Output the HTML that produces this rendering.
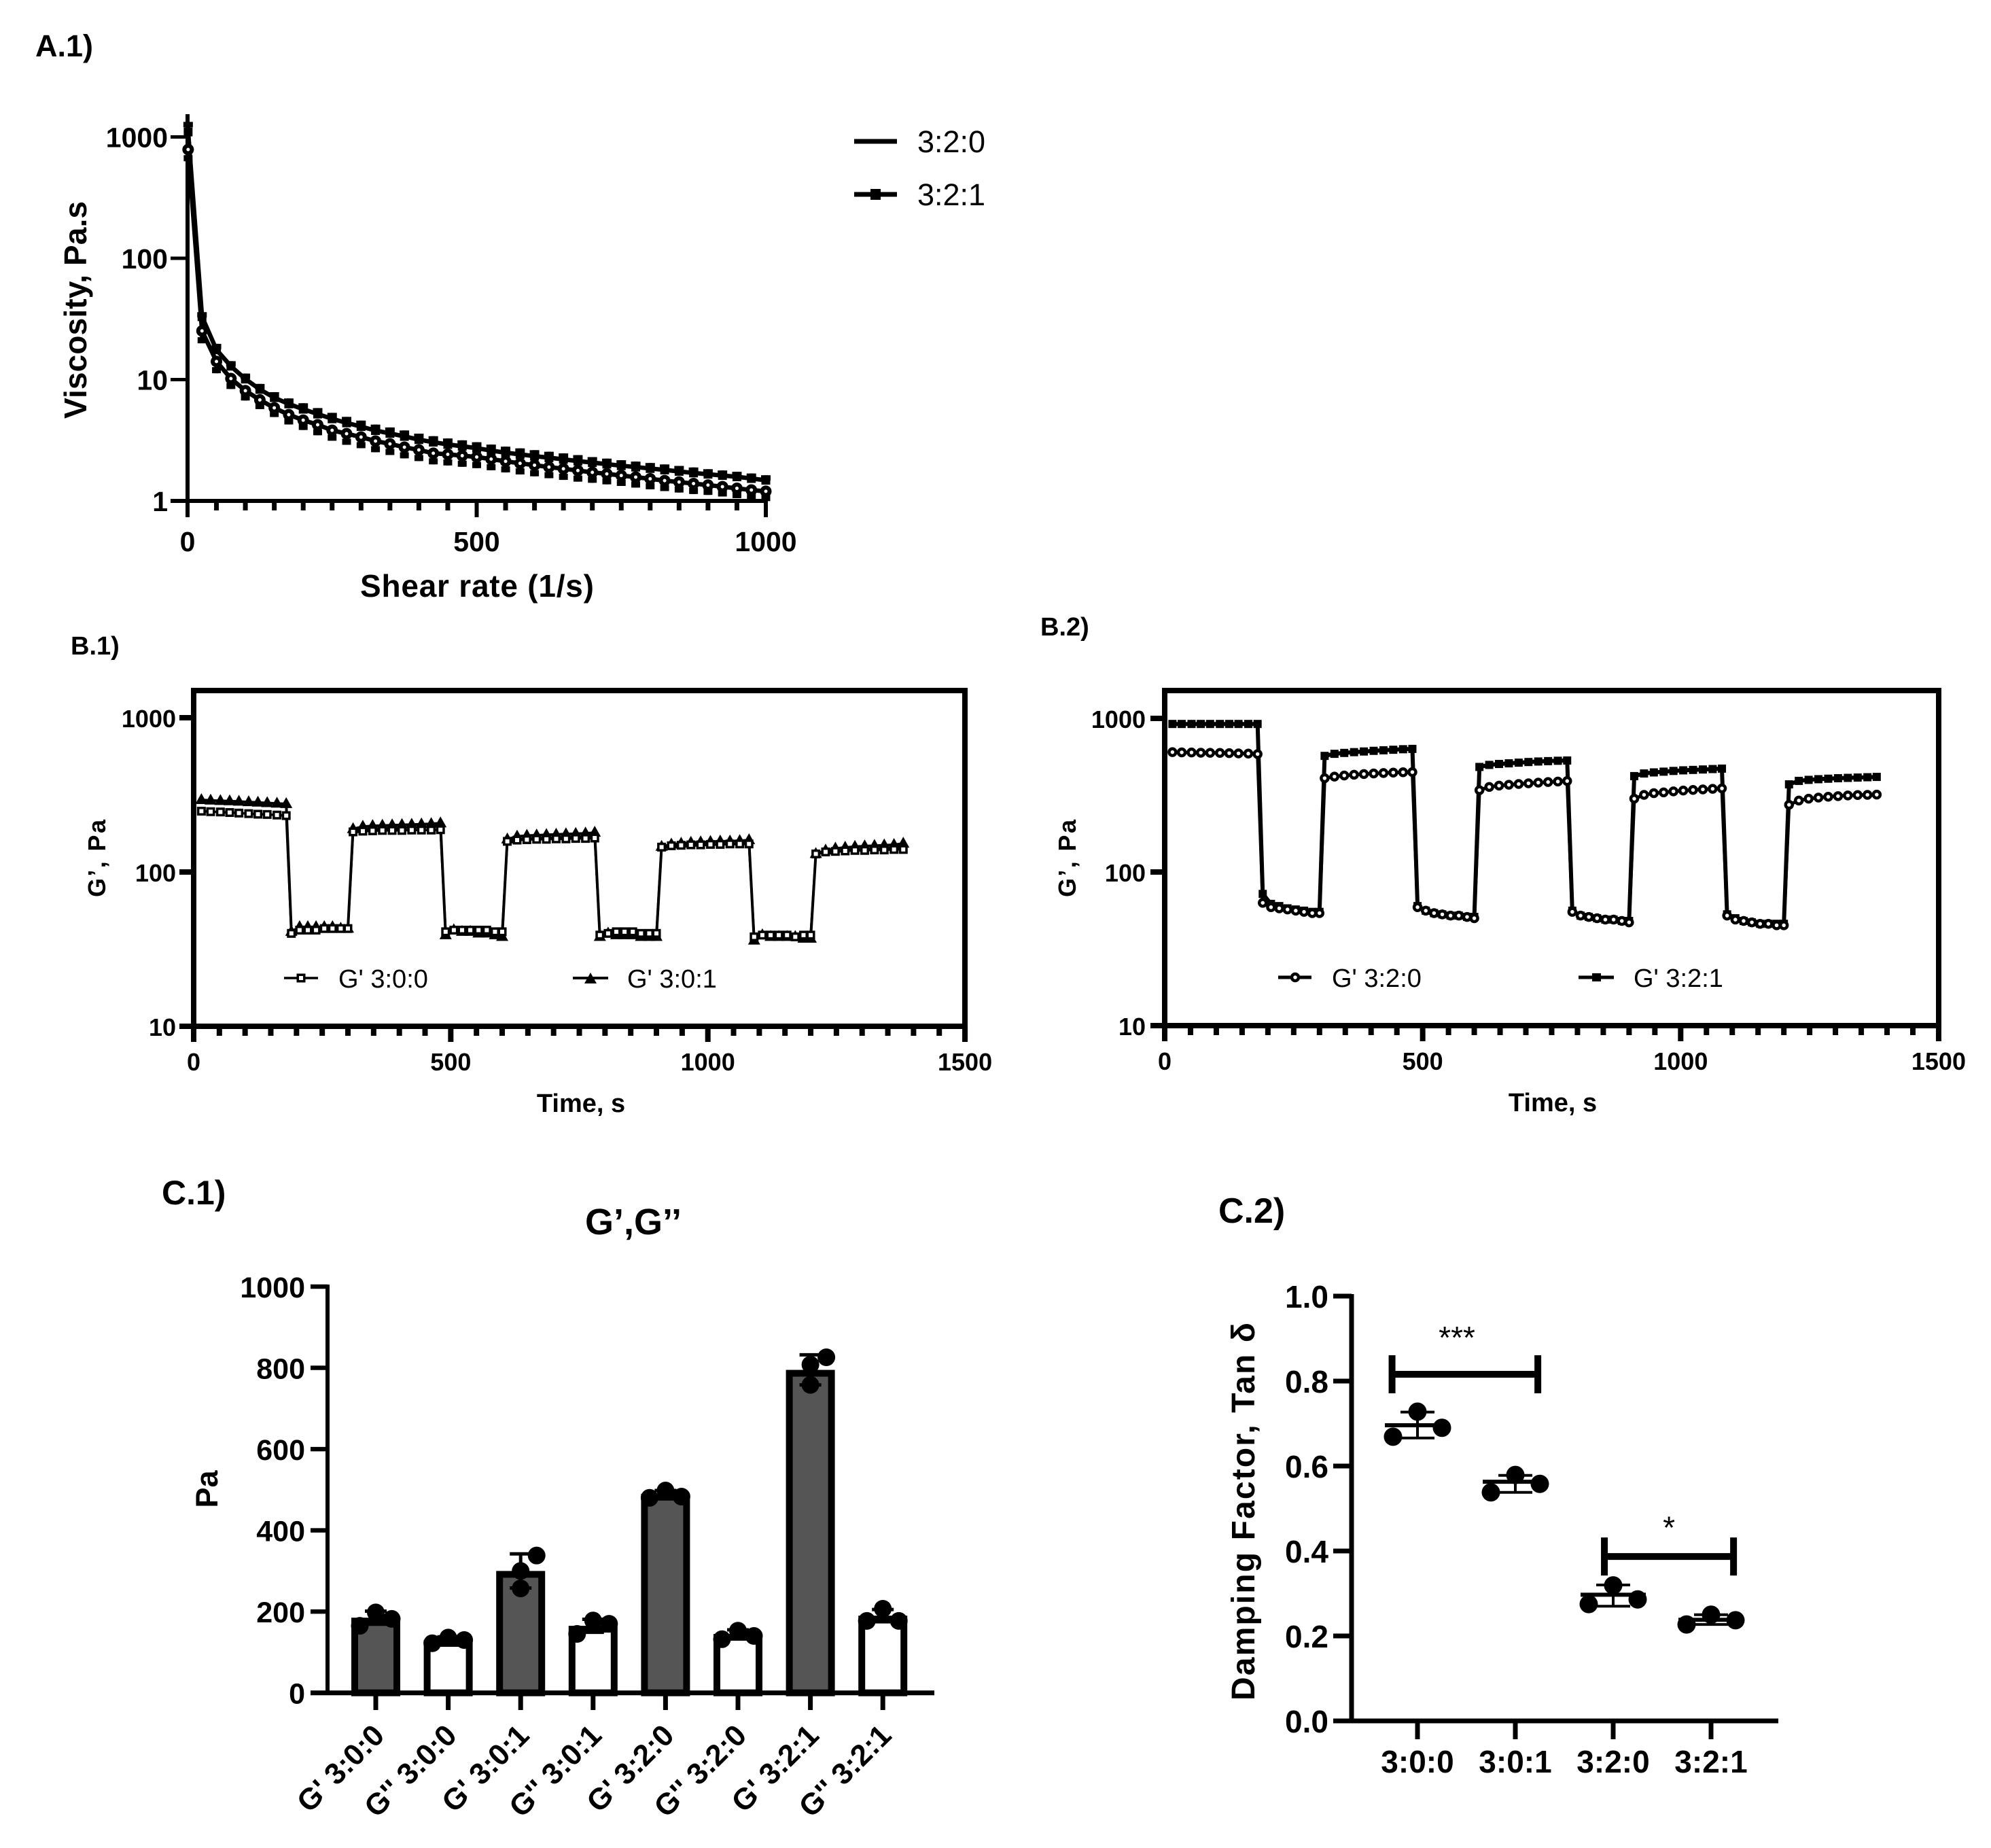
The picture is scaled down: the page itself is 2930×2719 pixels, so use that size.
<!DOCTYPE html>
<html lang="en">
<head>
<meta charset="utf-8">
<title>Rheology figure</title>
<style>
html,body{margin:0;padding:0;background:#fff;}
svg{display:block;}
text{font-family:"Liberation Sans",Arial,sans-serif;fill:#000;}
.b{font-weight:bold;}
</style>
</head>
<body>
<svg id="figure" xmlns="http://www.w3.org/2000/svg" width="2930" height="2719" viewBox="0 0 2930 2719">
  <rect x="0" y="0" width="2930" height="2719" fill="#fff"/>
  <text class="b" x="52" y="83" font-size="45">A.1)</text>
  <text class="b" x="104" y="963" font-size="38">B.1)</text>
  <text class="b" x="1531" y="935" font-size="38">B.2)</text>
  <text class="b" x="238" y="1772" font-size="50">C.1)</text>
  <text class="b" x="1793" y="1799" font-size="52">C.2)</text>

  <text class="b" transform="translate(127,456) rotate(-90)" text-anchor="middle" font-size="46" textLength="320">Viscosity, Pa.s</text>
  <text class="b" x="702" y="878" text-anchor="middle" font-size="46" textLength="344">Shear rate (1/s)</text>
  <text class="b" transform="translate(155,1263) rotate(-90)" text-anchor="middle" font-size="36" textLength="114">G’, Pa</text>
  <text class="b" x="855" y="1636" text-anchor="middle" font-size="38">Time, s</text>
  <text class="b" transform="translate(1583,1263) rotate(-90)" text-anchor="middle" font-size="36" textLength="114">G’, Pa</text>
  <text class="b" x="2285" y="1635" text-anchor="middle" font-size="38">Time, s</text>
  <text class="b" x="932" y="1816" text-anchor="middle" font-size="54">G’,G’’</text>
  <text class="b" transform="translate(320,2191) rotate(-90)" text-anchor="middle" font-size="45">Pa</text>
  <text class="b" transform="translate(1846,2224) rotate(-90)" text-anchor="middle" font-size="48" textLength="556">Damping Factor, Tan δ</text>
</svg>

<script>
/* ---------- Panel A.1 data ---------- */
const shearRates = [1,25,50,75,100,125,150,175,200,225,250,275,300,325,350,375,400,425,450,475,500,525,550,575,600,625,650,675,700,725,750,775,800,825,850,875,900,925,950,975,1000];
const viscosity320 = [788,25.2,14.1,10.2,8.1,6.8,5.85,5.14,4.63,4.24,3.82,3.58,3.36,3.11,2.95,2.77,2.63,2.47,2.42,2.36,2.3,2.21,2.12,2.04,1.97,1.9,1.84,1.78,1.72,1.67,1.62,1.57,1.52,1.47,1.43,1.39,1.35,1.31,1.27,1.23,1.2];
const viscosity321 = [1100,33,17.6,12.9,10.1,8.3,7.1,6.3,5.7,5.2,4.75,4.4,4.1,3.8,3.6,3.4,3.2,3.05,2.92,2.82,2.72,2.6,2.5,2.42,2.34,2.27,2.2,2.13,2.07,2.01,1.95,1.9,1.85,1.8,1.75,1.7,1.66,1.62,1.58,1.53,1.48];
const viscosityErrDownPct320 = [20,21,20,18,17,16,16,17,17,18,18,19,19,19,19,19,19,19,19,19,19,19,19,19,19,19,19,19,18,18,18,18,18,18,18,18,17,17,17,17,17];
const viscosityErrUpPct321 = [21,9,12,10,11,11,11,11,12,12,12,12,12,12,12,12,12,12,12,12,12,12,12,12,12,12,12,12,11,11,11,11,11,11,11,11,10,10,10,10,10];
const aXTicks = [0,500,1000];
const aXMinorTicks = [50,100,150,200,250,300,350,400,450,550,600,650,700,750,800,850,900,950];
const aYTicks = [1,10,100,1000];

/* ---------- Panels B data ---------- */
const timeSeconds = [15,33,52,70,88,107,125,143,162,180, 190,206,222,238,254,270,286,300, 310,329,348,367,386,405,424,443,462,480, 490,506,522,538,554,570,586,600, 610,629,648,667,686,705,724,743,762,780, 790,806,822,838,854,870,886,900, 910,929,948,967,986,1005,1024,1043,1062,1080, 1090,1106,1122,1138,1154,1170,1186,1200, 1210,1229,1248,1267,1286,1305,1324,1343,1362,1380];
const gPrime300 = [248,246,245,243,241,239,237,236,234,232, 40,42,42,42,43,43,43,43, 182,184,185,186,186,186,187,187,187,188, 41,42,42,42,42,42,41,41, 158,161,162,163,163,164,164,165,165,166, 39,40,41,41,41,40,40,40, 145,148,149,150,150,151,151,152,152,152, 38,39,39,39,39,38,39,39, 131,135,136,137,138,138,139,139,140,140];
const gPrime301 = [293,291,289,288,286,284,282,280,278,276, 41,44,44,44,44,44,43,43, 190,197,199,200,201,202,203,204,205,207, 39,42,41,41,40,40,39,38, 163,170,172,173,174,175,176,177,178,180, 38,40,39,39,39,38,38,38, 146,151,153,155,156,157,158,158,159,161, 36,39,38,38,38,38,37,37, 131,138,142,144,146,147,148,149,150,153];
const gPrime320 = [603,601,600,598,597,596,594,592,590,586, 63,59,58,57,56,55,54,54, 408,418,425,430,434,438,441,444,446,447, 59,56,54,53,52,52,51,50, 341,358,365,370,374,378,382,385,388,391, 55,52,51,50,49,49,48,47, 300,318,326,330,335,339,342,345,348,350, 52,49,48,47,46,46,45,45, 274,292,300,305,309,312,315,317,318,319];
const gPrime321 = [920,920,920,920,920,920,920,920,920,920, 72,62,60,58,57,56,55,55, 570,588,596,603,609,615,620,625,630,633, 60,56,54,53,52,52,51,51, 483,498,505,510,515,520,524,527,530,532, 56,52,51,50,49,49,48,48, 421,438,445,450,455,459,462,465,468,471, 53,50,48,47,46,46,46,46, 372,392,398,402,405,408,410,412,414,416];
const bXTicks = [0,500,1000,1500];
const bXMinorTicks = [50,100,150,200,250,300,350,400,450,550,600,650,700,750,800,850,900,950,1050,1100,1150,1200,1250,1300,1350,1400,1450];
const bYTicks = [10,100,1000];

/* ---------- Panel C.1 data ---------- */
const modulusCategories = ["G' 3:0:0","G'' 3:0:0","G' 3:0:1","G'' 3:0:1","G' 3:2:0","G'' 3:2:0","G' 3:2:1","G'' 3:2:1"];
const modulusMeans = [185,130,300,165,490,145,795,190];
const modulusErrors = [16,8,42,16,8,10,37,15];
const modulusReplicates = [[165,198,182],[122,136,130],[257,300,338],[145,178,170],[480,498,483],[132,153,140],[758,808,826],[177,207,177]];
const modulusDotSlots = [[-1,0,1],[-1,0,1],[0,0,1],[-1,0,1],[-1,0,1],[-1,0,1],[0,0,1],[-1,0,1]];
const modulusYTicks = [0,200,400,600,800,1000];
const modulusShading = ["dark","light","dark","light","dark","light","dark","light"];

/* ---------- Panel C.2 data ---------- */
const dampingCategories = ["3:0:0","3:0:1","3:2:0","3:2:1"];
const dampingMeans = [0.696,0.563,0.297,0.238];
const dampingUpper = [0.727,0.578,0.32,0.25];
const dampingLower = [0.666,0.538,0.27,0.227];
const dampingReplicates = [[0.669,0.728,0.69],[0.538,0.579,0.558],[0.275,0.319,0.286],[0.227,0.25,0.237]];
const dampingDotSlots = [-1,0,1];
const dampingYTicks = [0,0.2,0.4,0.6,0.8,1];
const bracketStartGroup = [-0.26,1.91];
const bracketEndGroup = [1.23,3.23];
const bracketLevel = [0.816,0.387];
const bracketStars = ["***","*"];
const bracketStarGroup = [0.403,2.57];
const bracketStarLevel = [0.877,0.43];

/* ---------- Drawing helpers ---------- */
const NS = 'http://www.w3.org/2000/svg';
const svg = document.getElementById('figure');

function add(parent, tag, attrs, name) {
  const node = document.createElementNS(NS, tag);
  for (const k in attrs) node.setAttribute(k, attrs[k]);
  
  
  parent.appendChild(node);
  return node;
}
function group(name) { return add(svg, 'g', {}, name); }
function line(p, x1, y1, x2, y2, w, name) {
  return add(p, 'line', {x1, y1, x2, y2, stroke: '#000', 'stroke-width': w}, name);
}
function box(p, x, y, w, h, name) {
  return add(p, 'rect', {x, y, width: w, height: h, fill: '#000'}, name);
}
function label(p, x, y, str, size, anchor, bold, name) {
  const t = add(p, 'text', {x, y, 'font-size': size, 'text-anchor': anchor}, name);
  if (bold) t.setAttribute('class', 'b');
  t.textContent = str;
  return t;
}
function polyline(p, xs, ys, w, name) {
  const pts = xs.map((v, i) => v.toFixed(1) + ',' + ys[i].toFixed(1)).join(' ');
  return add(p, 'polyline', {points: pts, fill: 'none', stroke: '#000', 'stroke-width': w, 'stroke-linejoin': 'miter'}, name);
}
function circleMark(p, cx, cy, r, sw, name) {
  return add(p, 'circle', {cx, cy, r, fill: '#fff', stroke: '#000', 'stroke-width': sw}, name);
}
function squareMark(p, cx, cy, s, sw, name) {
  return add(p, 'rect', {x: cx - s / 2, y: cy - s / 2, width: s, height: s, fill: '#fff', stroke: '#000', 'stroke-width': sw}, name);
}
function triangleMark(p, cx, cy, name) {
  const pts = cx + ',' + (cy - 10) + ' ' + (cx - 9) + ',' + (cy + 6) + ' ' + (cx + 9) + ',' + (cy + 6);
  return add(p, 'polygon', {points: pts, fill: '#000'}, name);
}

/* ---------- Panel A.1 ---------- */
(function () {
  const x = v => 276 + v * 0.851;
  const y = v => 737 - Math.log10(v) * 178.5;
  const g = group('a1-viscosity-chart');
  const axes = add(g, 'g', {}, 'a1-axes');
  line(axes, x(0), 168, x(0), 761, 6, 'a1-y-axis');
  line(axes, 251, y(1), x(1000) + 3, y(1), 6, 'a1-x-axis');
  aYTicks.forEach(t => {
    if (t > 1) line(axes, 251, y(t), x(0), y(t), 5, 'a1-y-tick');
    label(axes, 247, y(t) + 15, String(t), 41, 'end', true, 'a1-y-tick-label');
  });
  aXTicks.forEach(t => {
    line(axes, x(t), y(1), x(t), 761, 6, 'a1-x-tick');
    label(axes, x(t), 811, String(t), 41, 'middle', true, 'a1-x-tick-label');
  });
  aXMinorTicks.forEach(t => {
    line(axes, x(t), y(1), x(t), 751, 7, 'a1-x-minor-tick');
  });

  const s321 = add(g, 'g', {}, 'a1-series-3-2-1');
  const xs = shearRates.map(x);
  polyline(s321, xs, viscosity321.map(y), 6.5, 'a1-line-3-2-1');
  viscosity321.forEach((v, i) => {
    const top = y(v * (1 + viscosityErrUpPct321[i] / 100));
    line(s321, xs[i], top, xs[i], y(v), 6, 'a1-error-bar-3-2-1');
    box(s321, xs[i] - 7, top, 14, 8, 'a1-error-cap-3-2-1');
    box(s321, xs[i] - 6.5, y(v) - 6.5, 13, 13, 'a1-point-3-2-1');
  });
  const s320 = add(g, 'g', {}, 'a1-series-3-2-0');
  polyline(s320, xs, viscosity320.map(y), 6.5, 'a1-line-3-2-0');
  viscosity320.forEach((v, i) => {
    const bot = y(v * (1 - viscosityErrDownPct320[i] / 100));
    line(s320, xs[i], y(v), xs[i], bot, 6, 'a1-error-bar-3-2-0');
    box(s320, xs[i] - 6.5, bot - 9, 13, 9, 'a1-error-cap-3-2-0');
  });
  viscosity320.forEach((v, i) => {
    circleMark(s320, xs[i], y(v), 5.5, 6, 'a1-point-3-2-0');
  });

  const legend = add(g, 'g', {}, 'a1-legend');
  line(legend, 1257, 208, 1320, 208, 7, 'a1-legend-line-3-2-0');
  label(legend, 1350, 224, '3:2:0', 45, 'start', false, 'a1-legend-label-3-2-0');
  line(legend, 1257, 286, 1320, 286, 7, 'a1-legend-line-3-2-1');
  box(legend, 1281, 278, 15, 16, 'a1-legend-marker-3-2-1');
  label(legend, 1350, 302, '3:2:1', 45, 'start', false, 'a1-legend-label-3-2-1');
})();

/* ---------- Panels B ---------- */
function drawFrame(g, prefix, left, right, top, bottom, x, y, labelRight) {
  const axes = add(g, 'g', {}, prefix + '-axes');
  add(axes, 'rect', {x: left, y: top, width: right - left, height: bottom - top, fill: 'none', stroke: '#000', 'stroke-width': 8}, prefix + '-plot-frame');
  bYTicks.forEach(t => {
    line(axes, left - 21, y(t), left, y(t), 8, prefix + '-y-tick');
    label(axes, labelRight, y(t) + 14, String(t), 36, 'end', true, prefix + '-y-tick-label');
  });
  bXTicks.forEach(t => {
    line(axes, x(t), bottom, x(t), bottom + 23, 8, prefix + '-x-tick');
    label(axes, x(t), bottom + 65, String(t), 36, 'middle', true, prefix + '-x-tick-label');
  });
  bXMinorTicks.forEach(t => {
    line(axes, x(t), bottom, x(t), bottom + 14, 8, prefix + '-x-minor-tick');
  });
}

(function () {
  const x = v => 285 + v * 0.7567;
  const y = v => 1510 - (Math.log10(v) - 1) * 227;
  const g = group('b1-storage-modulus-chart');
  drawFrame(g, 'b1', 285, 1420, 1016, 1510, x, y, 259);
  const xs = timeSeconds.map(x);
  const s1 = add(g, 'g', {}, 'b1-series-g-3-0-1');
  polyline(s1, xs, gPrime301.map(y), 4, 'b1-line-g-3-0-1');
  gPrime301.forEach((v, i) => {
    triangleMark(s1, xs[i], y(v), 'b1-point-g-3-0-1');
  });
  const s0 = add(g, 'g', {}, 'b1-series-g-3-0-0');
  polyline(s0, xs, gPrime300.map(y), 3.5, 'b1-line-g-3-0-0');
  gPrime300.forEach((v, i) => {
    squareMark(s0, xs[i], y(v), 9.5, 3.5, 'b1-point-g-3-0-0');
  });
  const legend = add(g, 'g', {}, 'b1-legend');
  line(legend, 418, 1439, 468, 1439, 3.5, 'b1-legend-line-g-3-0-0');
  squareMark(legend, 443, 1439, 9.5, 3.5, 'b1-legend-marker-g-3-0-0');
  label(legend, 498, 1453, "G' 3:0:0", 38, 'start', false, 'b1-legend-label-g-3-0-0');
  line(legend, 843, 1439, 895, 1439, 4, 'b1-legend-line-g-3-0-1');
  triangleMark(legend, 869, 1441, 'b1-legend-marker-g-3-0-1');
  label(legend, 923, 1453, "G' 3:0:1", 38, 'start', false, 'b1-legend-label-g-3-0-1');
})();

(function () {
  const x = v => 1714 + v * 0.7593;
  const y = v => 1509 - (Math.log10(v) - 1) * 226;
  const g = group('b2-storage-modulus-chart');
  drawFrame(g, 'b2', 1714, 2853, 1016, 1509, x, y, 1686);
  const xs = timeSeconds.map(x);
  const s1 = add(g, 'g', {}, 'b2-series-g-3-2-1');
  polyline(s1, xs, gPrime321.map(y), 6, 'b2-line-g-3-2-1');
  gPrime321.forEach((v, i) => {
    box(s1, xs[i] - 6, y(v) - 6, 12, 12, 'b2-point-g-3-2-1');
  });
  const s0 = add(g, 'g', {}, 'b2-series-g-3-2-0');
  polyline(s0, xs, gPrime320.map(y), 5, 'b2-line-g-3-2-0');
  gPrime320.forEach((v, i) => {
    circleMark(s0, xs[i], y(v), 5, 4.5, 'b2-point-g-3-2-0');
  });
  const legend = add(g, 'g', {}, 'b2-legend');
  line(legend, 1881, 1438, 1930, 1438, 5, 'b2-legend-line-g-3-2-0');
  circleMark(legend, 1906, 1438, 5, 4.5, 'b2-legend-marker-g-3-2-0');
  label(legend, 1960, 1452, "G' 3:2:0", 38, 'start', false, 'b2-legend-label-g-3-2-0');
  line(legend, 2323, 1438, 2375, 1438, 5, 'b2-legend-line-g-3-2-1');
  box(legend, 2343, 1432, 13, 12, 'b2-legend-marker-g-3-2-1');
  label(legend, 2404, 1452, "G' 3:2:1", 38, 'start', false, 'b2-legend-label-g-3-2-1');
})();

/* ---------- Panel C.1 ---------- */
(function () {
  const x = i => 553 + i * 106.6;
  const y = v => 2490.7 - v * 0.5977;
  const g = group('c1-modulus-bar-chart');
  modulusMeans.forEach((v, i) => {
    add(g, 'rect', {x: x(i) - 31, y: y(v) + 5, width: 62, height: y(0) - y(v) - 5, fill: modulusShading[i] === 'dark' ? '#555' : '#fff', stroke: '#000', 'stroke-width': 10}, 'c1-bar');
  });
  modulusMeans.forEach((v, i) => {
    const e = modulusErrors[i];
    line(g, x(i), y(v + e), x(i), y(v - e), 5, 'c1-error-bar');
    line(g, x(i) - 16, y(v + e), x(i) + 16, y(v + e), 5, 'c1-error-cap-upper');
    line(g, x(i) - 16, y(v - e), x(i) + 16, y(v - e), 5, 'c1-error-cap-lower');
  });
  modulusReplicates.forEach((vals, i) => {
    vals.forEach((v, j) => {
      add(g, 'circle', {cx: x(i) + modulusDotSlots[i][j] * 23.5, cy: y(v), r: 13, fill: '#000'}, 'c1-replicate-dot');
    });
  });
  const axes = add(g, 'g', {}, 'c1-axes');
  line(axes, 482, 1890, 482, 2491, 6, 'c1-y-axis');
  line(axes, 457, y(0), 1375, y(0), 7, 'c1-x-axis');
  modulusYTicks.forEach(t => {
    if (t > 0) line(axes, 457, y(t), 482, y(t), 6.5, 'c1-y-tick');
    label(axes, 449, y(t) + 16, String(t), 43, 'end', true, 'c1-y-tick-label');
  });
  modulusCategories.forEach((c, i) => {
    line(axes, x(i), y(0), x(i), 2516, 7, 'c1-x-tick');
    const t = label(axes, 0, 0, c, 44, 'end', true, 'c1-x-tick-label');
    t.setAttribute('transform', 'translate(' + (x(i) + 15) + ',2556) rotate(-45)');
  });
})();

/* ---------- Panel C.2 ---------- */
(function () {
  const x = i => 2086 + i * 144;
  const y = v => 2532 - v * 625;
  const g = group('c2-damping-factor-chart');
  const axes = add(g, 'g', {}, 'c2-axes');
  line(axes, 1989, 1904, 1989, 2533, 7, 'c2-y-axis');
  line(axes, 1962, y(0), 2617, y(0), 7, 'c2-x-axis');
  dampingYTicks.forEach(t => {
    if (t > 0) line(axes, 1962, y(t), 1989, y(t), 7, 'c2-y-tick');
    label(axes, 1955, y(t) + 17, t.toFixed(1), 46, 'end', true, 'c2-y-tick-label');
  });
  dampingCategories.forEach((c, i) => {
    line(axes, x(i), y(0), x(i), 2559, 7, 'c2-x-tick');
    label(axes, x(i), 2608, c, 46, 'middle', true, 'c2-x-tick-label');
  });
  dampingMeans.forEach((m, i) => {
    line(g, x(i), y(dampingUpper[i]), x(i), y(dampingLower[i]), 4, 'c2-error-bar');
    line(g, x(i) - 48, y(m), x(i) + 48, y(m), 6, 'c2-mean-line');
    line(g, x(i) - 25, y(dampingUpper[i]), x(i) + 25, y(dampingUpper[i]), 4, 'c2-error-cap-upper');
    line(g, x(i) - 25, y(dampingLower[i]), x(i) + 25, y(dampingLower[i]), 4, 'c2-error-cap-lower');
  });
  dampingReplicates.forEach((vals, i) => {
    vals.forEach((v, j) => {
      add(g, 'circle', {cx: x(i) + dampingDotSlots[j] * 36, cy: y(v), r: 13.5, fill: '#000'}, 'c2-replicate-dot');
    });
  });
  bracketStars.forEach((s, i) => {
    const x1 = x(bracketStartGroup[i]);
    const x2 = x(bracketEndGroup[i]);
    const yy = y(bracketLevel[i]);
    line(g, x1, yy, x2, yy, 10, 'c2-significance-bracket');
    line(g, x1, yy - 28, x1, yy + 28, 10, 'c2-significance-bracket-left');
    line(g, x2, yy - 28, x2, yy + 28, 10, 'c2-significance-bracket-right');
    label(g, x(bracketStarGroup[i]), y(bracketStarLevel[i]), s, 46, 'middle', false, 'c2-significance-stars');
  });
})();
</script>
</body>
</html>
